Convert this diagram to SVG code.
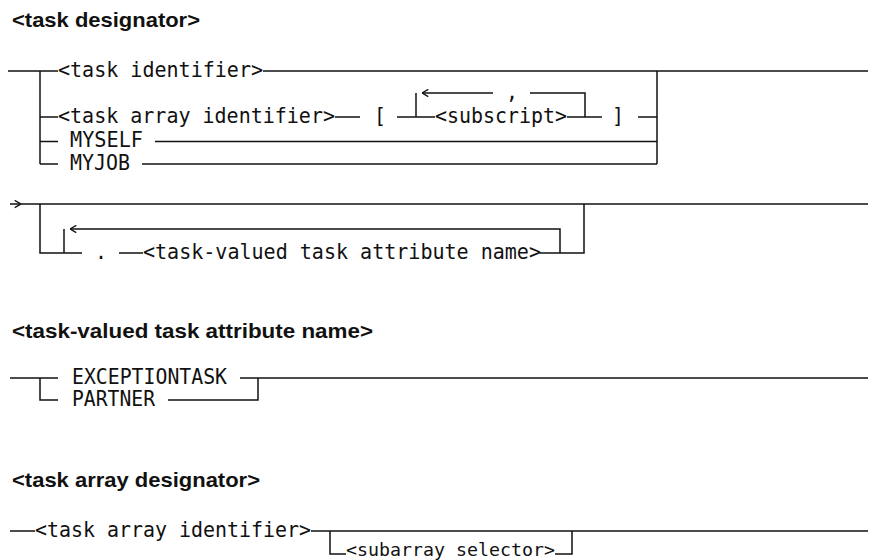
<svg xmlns="http://www.w3.org/2000/svg" width="869" height="560" viewBox="0 0 869 560">
<style>
.t{font-family:"Liberation Sans",Arial,sans-serif;font-weight:bold;font-size:21px;fill:#111}
.m{font-family:"DejaVu Sans Mono","Liberation Mono",monospace;font-size:21px;fill:#111}
.ln{stroke:#111;stroke-width:1.5;fill:none}
</style>
<defs>
<marker id="ah" viewBox="0 0 10 10" refX="10" refY="5" markerUnits="userSpaceOnUse" markerWidth="9" markerHeight="9" orient="auto-start-reverse">
<path d="M3,1 L10,5 L3,9" fill="none" stroke="#111" stroke-width="1.5"/>
</marker>
</defs>
<rect width="869" height="560" fill="#fff"/>
<g id="titles">
<text class="t" x="12" y="27" textLength="188" lengthAdjust="spacingAndGlyphs">&lt;task designator&gt;</text>
<text class="t" x="12" y="338" textLength="361" lengthAdjust="spacingAndGlyphs">&lt;task-valued task attribute name&gt;</text>
<text class="t" x="12" y="487" textLength="248" lengthAdjust="spacingAndGlyphs">&lt;task array designator&gt;</text>
</g>
<g id="connectors" class="ln">
<path d="M8,71 H58"/>
<path d="M263,71 H868"/>
<path d="M40,71 V164"/>
<path d="M657,71 V164"/>
<path d="M40,117 H58"/>
<path d="M335,117 H360"/>
<path d="M397,117 H435"/>
<path d="M567,117 H602"/>
<path d="M416,117 V93"/>
<path d="M422,93 H493" marker-start="url(#ah)"/>
<path d="M530,93 H585 V117"/>
<path d="M638,117 H657"/>
<path d="M40,141.5 H58"/>
<path d="M155,141.5 H657"/>
<path d="M40,164 H58"/>
<path d="M142,164 H657"/>
<path d="M10,204 H21" marker-end="url(#ah)"/>
<path d="M21,204 H868"/>
<path d="M40,204 V253 H82"/>
<path d="M64,253 V229"/>
<path d="M70,229 H560 V253" marker-start="url(#ah)"/>
<path d="M119,253 H143"/>
<path d="M540,253 H584 V204"/>
<path d="M10,378 H58"/>
<path d="M40,378 V400 H58"/>
<path d="M240,378 H868"/>
<path d="M258,378 V400 H168"/>
<path d="M10,531 H35"/>
<path d="M311,531 H868"/>
<path d="M330,531 V554 H346"/>
<path d="M555,554 H572 V531"/>
</g>
<g id="n-task-identifier"><text class="m" x="58" y="76.5" textLength="205" lengthAdjust="spacingAndGlyphs">&lt;task identifier&gt;</text></g>
<g id="n-task-array-identifier-1"><text class="m" x="58" y="123" textLength="277" lengthAdjust="spacingAndGlyphs">&lt;task array identifier&gt;</text></g>
<g id="n-lbracket"><text class="m" x="374" y="123" textLength="12" lengthAdjust="spacingAndGlyphs">[</text></g>
<g id="n-comma"><text class="m" x="506" y="99" textLength="12" lengthAdjust="spacingAndGlyphs">,</text></g>
<g id="n-subscript"><text class="m" x="435" y="123" textLength="132" lengthAdjust="spacingAndGlyphs">&lt;subscript&gt;</text></g>
<g id="n-rbracket"><text class="m" x="612" y="123" textLength="12" lengthAdjust="spacingAndGlyphs">]</text></g>
<g id="n-myself"><text class="m" x="70" y="147" textLength="73" lengthAdjust="spacingAndGlyphs">MYSELF</text></g>
<g id="n-myjob"><text class="m" x="70" y="169.5" textLength="60" lengthAdjust="spacingAndGlyphs">MYJOB</text></g>
<g id="n-dot"><text class="m" x="95" y="259" textLength="12" lengthAdjust="spacingAndGlyphs">.</text></g>
<g id="n-task-valued-name"><text class="m" x="143" y="259" textLength="398" lengthAdjust="spacingAndGlyphs">&lt;task-valued task attribute name&gt;</text></g>
<g id="n-exceptiontask"><text class="m" x="72" y="383.5" textLength="155" lengthAdjust="spacingAndGlyphs">EXCEPTIONTASK</text></g>
<g id="n-partner"><text class="m" x="72" y="405.5" textLength="83" lengthAdjust="spacingAndGlyphs">PARTNER</text></g>
<g id="n-task-array-identifier-2"><text class="m" x="35" y="537" textLength="276" lengthAdjust="spacingAndGlyphs">&lt;task array identifier&gt;</text></g>
<g id="n-subarray-selector"><text class="m" x="346" y="555.5" style="font-size:18px" textLength="209" lengthAdjust="spacingAndGlyphs">&lt;subarray selector&gt;</text></g>
</svg>
